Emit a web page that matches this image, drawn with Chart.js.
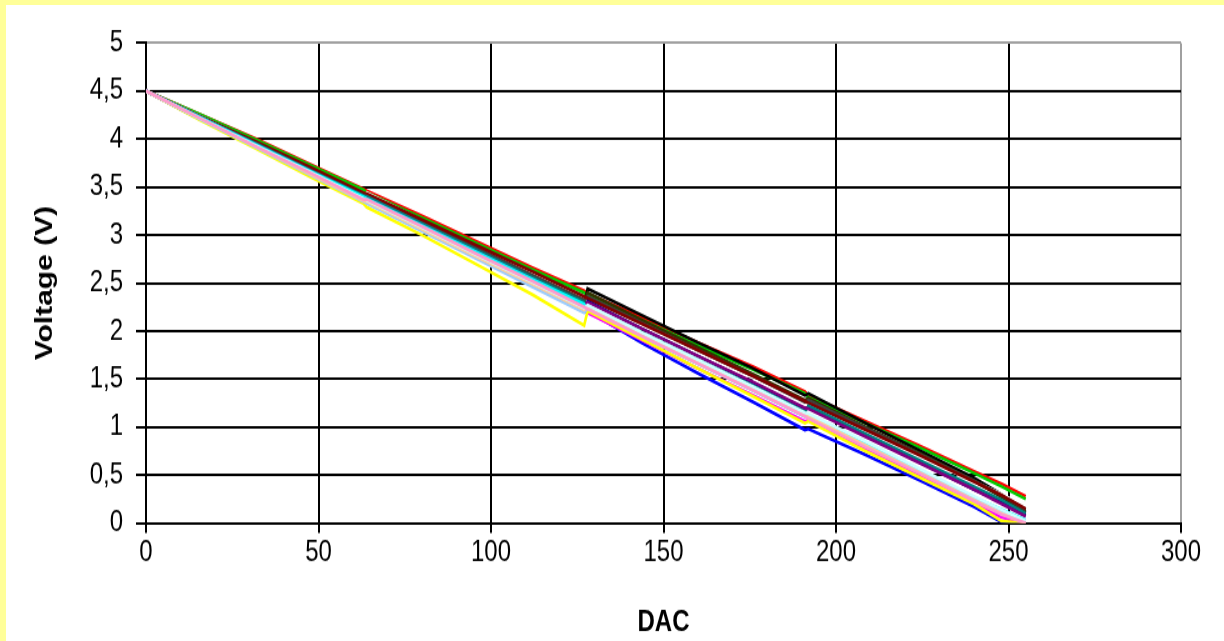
<!DOCTYPE html>
<html>
<head>
<meta charset="utf-8">
<script src="https://cdn.jsdelivr.net/npm/chart.js@4.4.1/dist/chart.umd.min.js"></script>
<style>
  html, body { margin: 0; padding: 0; background: #FFFF99; width: 1224px; height: 641px; overflow: hidden; }
  #frame { position: absolute; left: 6px; top: 5px; width: 1218px; height: 636px; background: #FFFFFF; overflow: hidden; }
  #c { display: block; transform: scaleY(1.24951); transform-origin: 0 0; }
</style>
</head>
<body>
<div id="frame"><canvas id="c" width="1218" height="509"></canvas></div>
<script>
const dac = [0, 16, 32, 48, 63, 64, 80, 96, 112, 127, 128, 144, 160, 176, 191, 192, 208, 224, 240, 248, 255];

const seriesRed     = [4.50, 4.25, 4.00, 3.73, 3.48, 3.46, 3.20, 2.93, 2.66, 2.42, 2.39, 2.14, 1.88, 1.63, 1.37, 1.33, 1.07, 0.81, 0.54, 0.41, 0.28];
const seriesGreen   = [4.50, 4.25, 3.99, 3.72, 3.47, 3.44, 3.18, 2.91, 2.64, 2.40, 2.37, 2.11, 1.85, 1.60, 1.35, 1.31, 1.05, 0.79, 0.52, 0.38, 0.25];
const seriesBlack   = [4.50, 4.20, 3.94, 3.65, 3.39, 3.43, 3.12, 2.82, 2.53, 2.27, 2.44, 2.16, 1.88, 1.61, 1.33, 1.35, 1.05, 0.76, 0.47, 0.30, 0.11];
const seriesWhite   = [4.50, 4.23, 3.96, 3.69, 3.40, 3.44, 3.15, 2.87, 2.59, 2.33, 2.33, 2.05, 1.78, 1.51, 1.25, 1.24, 0.97, 0.70, 0.43, 0.30, 0.17];
const seriesYellow  = [4.50, 4.19, 3.90, 3.60, 3.33, 3.29, 3.00, 2.69, 2.38, 2.06, 2.21, 1.91, 1.61, 1.32, 1.04, 1.06, 0.76, 0.48, 0.20, 0.02, 0.00];
const seriesBlue    = [4.50, 4.20, 3.92, 3.63, 3.36, 3.34, 3.06, 2.77, 2.48, 2.20, 2.21, 1.87, 1.56, 1.26, 0.97, 0.98, 0.72, 0.45, 0.17, 0.01, 0.00];
const seriesNavy    = [4.50, 4.21, 3.93, 3.65, 3.38, 3.37, 3.09, 2.80, 2.52, 2.25, 2.31, 2.02, 1.74, 1.46, 1.19, 1.21, 0.92, 0.64, 0.35, 0.22, 0.08];
const seriesMagenta = [4.50, 4.21, 3.93, 3.64, 3.37, 3.35, 3.07, 2.78, 2.50, 2.23, 2.19, 1.90, 1.61, 1.33, 1.06, 1.07, 0.78, 0.50, 0.21, 0.06, 0.00];
const seriesCyan    = [4.50, 4.22, 3.94, 3.66, 3.40, 3.38, 3.10, 2.82, 2.54, 2.28, 2.22, 1.94, 1.66, 1.38, 1.11, 1.12, 0.84, 0.56, 0.27, 0.14, 0.03];
const seriesSky     = [4.50, 4.20, 3.91, 3.62, 3.35, 3.33, 3.04, 2.75, 2.46, 2.19, 2.24, 1.96, 1.68, 1.40, 1.13, 1.10, 0.82, 0.54, 0.26, 0.13, 0.02];
const seriesTan     = [4.50, 4.21, 3.92, 3.63, 3.36, 3.35, 3.06, 2.77, 2.49, 2.22, 2.25, 1.96, 1.67, 1.39, 1.12, 1.11, 0.82, 0.53, 0.24, 0.10, 0.00];
const seriesTeal    = [4.50, 4.22, 3.95, 3.67, 3.41, 3.40, 3.12, 2.84, 2.56, 2.30, 2.26, 1.98, 1.70, 1.43, 1.16, 1.22, 0.94, 0.66, 0.38, 0.24, 0.10];
const seriesGray    = [4.50, 4.22, 3.96, 3.68, 3.42, 3.40, 3.13, 2.86, 2.58, 2.32, 2.36, 2.08, 1.80, 1.53, 1.26, 1.28, 1.00, 0.72, 0.44, 0.29, 0.14];
const seriesPurple  = [4.50, 4.22, 3.94, 3.66, 3.39, 3.38, 3.10, 2.82, 2.54, 2.27, 2.30, 2.02, 1.74, 1.47, 1.20, 1.19, 0.91, 0.63, 0.35, 0.20, 0.07];
const seriesPink    = [4.50, 4.21, 3.92, 3.64, 3.37, 3.37, 3.09, 2.80, 2.52, 2.25, 2.23, 1.94, 1.66, 1.38, 1.11, 1.09, 0.80, 0.52, 0.23, 0.09, 0.00];
const seriesMaroon  = [4.50, 4.23, 3.97, 3.70, 3.44, 3.43, 3.16, 2.89, 2.62, 2.36, 2.34, 2.07, 1.80, 1.53, 1.27, 1.25, 0.98, 0.71, 0.43, 0.29, 0.15];
const seriesTurq    = [4.50, 4.21, 3.93, 3.65, 3.38, 3.36, 3.08, 2.79, 2.51, 2.24, 2.27, 1.98, 1.70, 1.42, 1.15, 1.14, 0.86, 0.57, 0.28, 0.14, 0.02];
const seriesOlive   = [4.50, 4.22, 3.95, 3.68, 3.42, 3.41, 3.14, 2.86, 2.58, 2.32, 2.40, 2.11, 1.83, 1.55, 1.28, 1.30, 1.01, 0.73, 0.44, 0.27, 0.12];

const xTickLabels = ['0', '50', '100', '150', '200', '250', '300'];
const yTickLabels = ['0', '0,5', '1', '1,5', '2', '2,5', '3', '3,5', '4', '4,5', '5'];

const seriesList = [
  [seriesPink, '#FF99CC'], [seriesTurq, '#CCFFFF'], [seriesTan, '#FFCC99'], [seriesSky, '#99CCFF'],
  [seriesYellow, '#FFFF00'], [seriesCyan, '#00FFFF'], [seriesMagenta, '#FF00FF'], [seriesBlue, '#0000FF'],
  [seriesPurple, '#800080'], [seriesTeal, '#008080'], [seriesNavy, '#000080'], [seriesMaroon, '#800000'],
  [seriesGray, '#404040'], [seriesOlive, '#333300'], [seriesWhite, '#FFFFFF'], [seriesBlack, '#000000'],
  [seriesGreen, '#00CC00'], [seriesRed, '#FF0000']
];

const datasets = seriesList.map(([vals, col]) => ({
  data: vals.map((v, i) => ({ x: dac[i], y: v })),
  borderColor: col,
  backgroundColor: col,
  borderWidth: 2.6,
  pointRadius: 0,
  showLine: true,
  tension: 0,
  fill: false
}));

const tickFont = { family: 'Liberation Sans, Arial, sans-serif', size: 24 };
const titleFont = { family: 'Liberation Sans, Arial, sans-serif', size: 24, weight: 'bold' };

new Chart(document.getElementById('c'), {
  type: 'scatter',
  data: { datasets },
  options: {
    responsive: false,
    animation: false,
    devicePixelRatio: 1,
    layout: { padding: { top: 30.4, right: 43, bottom: 0, left: 0 } },
    plugins: { legend: { display: false }, tooltip: { enabled: false } },
    scales: {
      x: {
        type: 'linear', min: 0, max: 300,
        afterFit: s => { s.height = 94.4; },
        afterBuildTicks: s => { s.ticks = xTickLabels.map(t => ({ value: Number(t) })); },
        ticks: { font: tickFont, color: '#000', padding: 1, maxRotation: 0,
                 callback: (v, i) => xTickLabels[i] },
        grid: { color: c => (c.tick && c.tick.value === 300 ? '#A0A0A0' : '#000'), lineWidth: 2,
                tickLength: 8, tickColor: '#000', tickWidth: 2 },
        border: { color: '#000', width: 2 },
        title: { display: true, text: 'DAC', font: titleFont, color: '#000', padding: { top: 0, bottom: 0 } }
      },
      y: {
        type: 'linear', min: 0, max: 5,
        afterFit: s => { s.width = 140; },
        afterBuildTicks: s => { s.ticks = yTickLabels.map(t => ({ value: Number(t.replace(',', '.')) })); },
        ticks: { font: tickFont, color: '#000', padding: 13,
                 callback: (v, i) => yTickLabels[i] },
        grid: { color: c => (c.tick && c.tick.value === 5 ? '#A0A0A0' : '#000'), lineWidth: 2,
                tickLength: 10, tickColor: '#000', tickWidth: 2 },
        border: { color: '#000', width: 2 },
        title: { display: true, text: 'Voltage (V)', font: titleFont, color: '#000', padding: { top: 24.6, bottom: 0 } }
      }
    }
  }
});
</script>
</body>
</html>
